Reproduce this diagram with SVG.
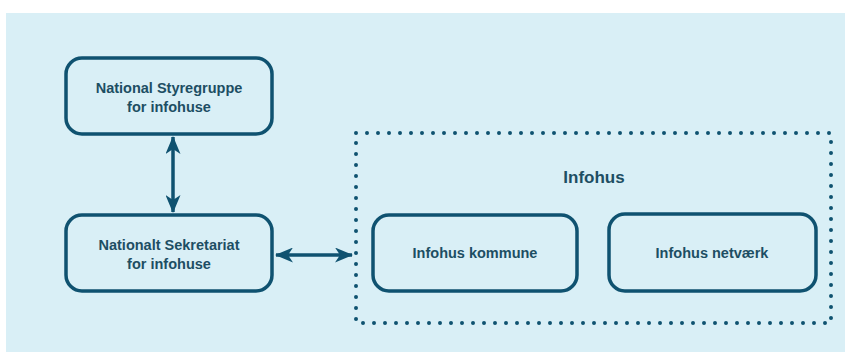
<svg xmlns="http://www.w3.org/2000/svg" width="845" height="352" viewBox="0 0 845 352">
<style>
.box{fill:none;stroke:#0f5270;stroke-width:3.5}
.t{font-family:"Liberation Sans",Arial,sans-serif;font-weight:bold;font-size:14.5px;fill:#1d4e63;text-anchor:middle}
.conn{stroke:#0f5270;stroke-width:3.5;fill:none}
</style>
<defs>
<marker id="ah" viewBox="0 0 18 15" refX="17" refY="7.5" markerWidth="18" markerHeight="15" markerUnits="userSpaceOnUse" orient="auto-start-reverse">
<path d="M0,0 L18,7.5 L0,15 L5,7.5 Z" fill="#0f5270"/>
</marker>
</defs>
<rect x="6" y="13" width="839" height="339" fill="#d9eff6"/>
<g id="infohus-group">
<rect x="356" y="133" width="475" height="190" fill="none" stroke="#0f5270" stroke-width="4" stroke-linecap="round" stroke-dasharray="0 11"/>
<text class="t" x="594" y="183" style="font-size:17px">Infohus</text>
</g>
<g id="styregruppe">
<rect class="box" x="66" y="58" width="206" height="76" rx="16"/>
<text class="t" x="169" y="93">National Styregruppe</text>
<text class="t" x="169" y="112">for infohuse</text>
</g>
<g id="sekretariat">
<rect class="box" x="66" y="215" width="206" height="76" rx="16"/>
<text class="t" x="169" y="250">Nationalt Sekretariat</text>
<text class="t" x="169" y="269">for infohuse</text>
</g>
<g id="kommune">
<rect class="box" x="373" y="215" width="204" height="76" rx="16"/>
<text class="t" x="475" y="258">Infohus kommune</text>
</g>
<g id="netvaerk">
<rect class="box" x="609" y="214" width="207" height="77" rx="16"/>
<text class="t" x="712" y="258">Infohus netværk</text>
</g>
<g id="connectors">
<line class="conn" x1="173" y1="137" x2="173" y2="212" marker-start="url(#ah)" marker-end="url(#ah)"/>
<line class="conn" x1="276" y1="255" x2="352" y2="255" marker-start="url(#ah)" marker-end="url(#ah)"/>
</g>
</svg>
